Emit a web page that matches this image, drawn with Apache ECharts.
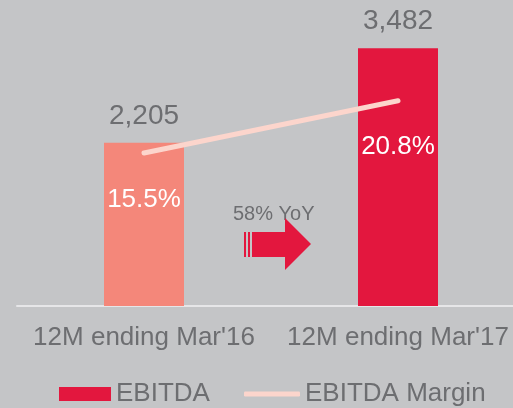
<!DOCTYPE html>
<html>
<head>
<meta charset="utf-8">
<script src="https://cdn.jsdelivr.net/npm/echarts@6/dist/echarts.min.js"></script>
<style>
html,body{margin:0;padding:0;background:#c4c5c7;}
#c{width:513px;height:408px;}
</style>
</head>
<body>
<div id="c"></div>
<script>
const categories = ["12M ending Mar'16", "12M ending Mar'17"];
const ebitda = [2205, 3482];
const ebitdaMargin = [15.5, 20.8];
const barColors = ['#f4877a', '#e3173e'];
const yoyText = '58% YoY';

const font = '"Liberation Sans", Arial, sans-serif';
const gray = '#6d6e71';

const chart = echarts.init(document.getElementById('c'));
chart.setOption({
  backgroundColor: '#c4c5c7',
  animation: false,
  textStyle: { fontFamily: font },
  grid: { left: 17, width: 508, top: 10, bottom: 102, outerBoundsMode: 'none', containLabel: false },
  legend: [
    {
      data: [{ name: 'EBITDA', icon: 'rect', itemStyle: { color: '#e3173e' } }],
      left: 59, top: 381, padding: 0, itemWidth: 52, itemHeight: 14, itemGap: 6,
      textStyle: { color: gray, fontSize: 26, fontFamily: font },
      selectedMode: false
    },
    {
      data: [{ name: 'EBITDA Margin', icon: 'roundRect' }],
      left: 244, top: 381, padding: 0, itemWidth: 56, itemHeight: 5, itemGap: 6,
      textStyle: { color: gray, fontSize: 26, fontFamily: font },
      selectedMode: false
    }
  ],
  xAxis: {
    type: 'category',
    data: categories,
    axisLine: { lineStyle: { color: '#e6e6e8', width: 2 } },
    axisTick: { show: false },
    axisLabel: { color: gray, fontSize: 26, fontFamily: font, margin: 19, interval: 0 }
  },
  yAxis: [
    { type: 'value', min: 0, max: 4000, show: false, splitLine: { show: false } },
    { type: 'value', min: 0, max: 30, show: false, splitLine: { show: false } }
  ],
  series: [
    {
      name: 'EBITDA',
      type: 'bar',
      barWidth: 80,
      data: ebitda.map((v, i) => ({ value: v, itemStyle: { color: barColors[i] } })),
      itemStyle: { color: '#e3173e' },
      label: {
        show: true, position: 'top', distance: 13,
        color: gray, fontSize: 28, fontFamily: font,
        formatter: p => p.value.toLocaleString('en-US')
      },
      z: 2
    },
    {
      name: 'EBITDA Margin',
      type: 'line',
      yAxisIndex: 1,
      data: ebitdaMargin,
      symbol: 'circle',
      symbolSize: 1,
      showSymbol: true,
      itemStyle: { color: '#fcd5cc' },
      lineStyle: { color: '#fcd5cc', width: 5, cap: 'round' },
      label: {
        show: true, position: 'bottom', distance: 33,
        color: '#ffffff', fontSize: 26, fontFamily: font,
        formatter: p => p.value.toFixed(1) + '%'
      },
      z: 3
    }
  ],
  graphic: [
    {
      type: 'text', left: 233, top: 204,
      style: { text: yoyText, fill: gray, font: '20px ' + font }
    },
    { type: 'rect', shape: { x: 244, y: 232, width: 2, height: 25 }, style: { fill: '#e3173e' } },
    { type: 'rect', shape: { x: 248, y: 232, width: 2, height: 25 }, style: { fill: '#e3173e' } },
    {
      type: 'polygon',
      shape: { points: [[252, 232], [285, 232], [285, 218], [311, 244], [285, 270], [285, 257], [252, 257]] },
      style: { fill: '#e3173e' }
    }
  ]
});
</script>
</body>
</html>
